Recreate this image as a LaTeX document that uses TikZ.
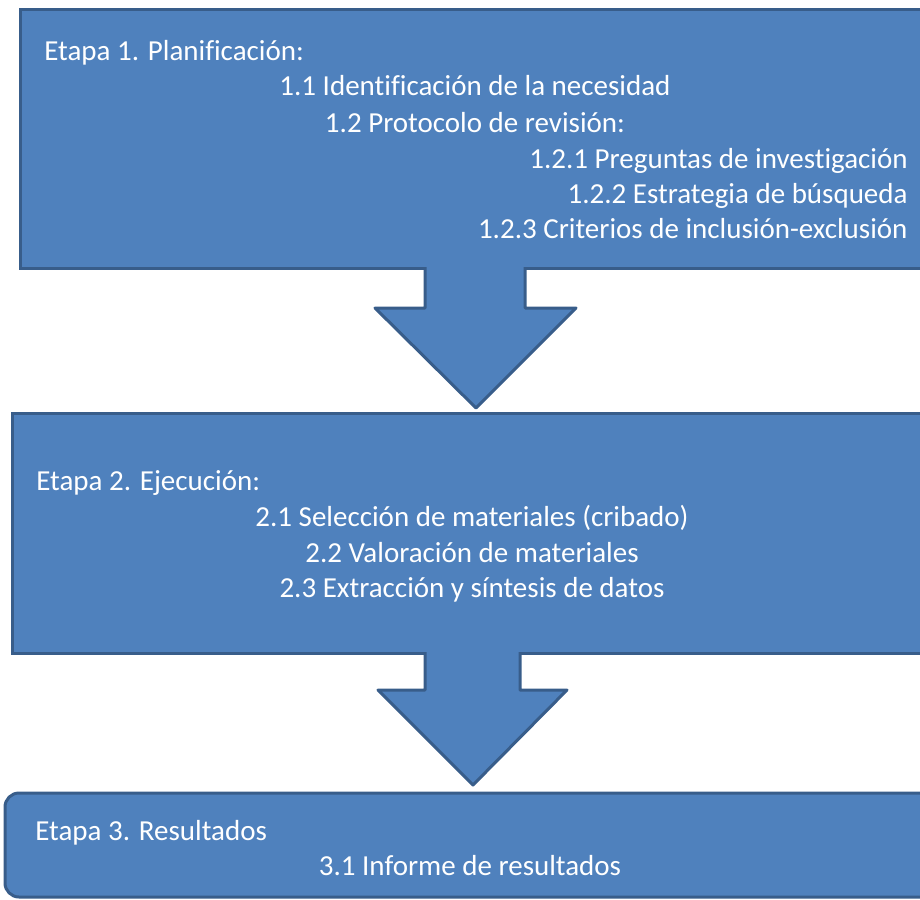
\documentclass[tikz,border=0pt]{standalone}
\usepackage{fontspec}
\setmainfont[Ligatures={NoCommon}]{Carlito}
\definecolor{azul}{HTML}{4F81BD}
\definecolor{borde}{HTML}{385D8A}

\begin{document}
\begin{tikzpicture}
    [x=0.5pt,y=-0.5pt,
     caja/.style={fill=azul,draw=borde,line width=1.5pt},
     flecha/.style={fill=azul,draw=borde,line width=1.5pt,line join=round},
     texto/.style={text=white,inner sep=0pt,font=\fontsize{14.5}{17}\selectfont}]
    \useasboundingbox (0,0) rectangle (920,899);
    \clip (0,0) rectangle (920,899);
    \draw [caja] (20,10) rectangle (940,268);
    \draw [caja] (12,413) rectangle (940,653);
    \draw [caja,rounded corners=7pt] (5,793) rectangle (960,897);
    \path [flecha] (425,267) -- (425,308) -- (375,308) -- (476,408)
      -- (576,308) -- (525,308) -- (525,267);
    \path [flecha] (425,652) -- (425,690) -- (378,690) -- (473,785)
      -- (567,690) -- (520,690) -- (520,652);
    \node (etapa1) at (44,61)     [texto,anchor=base west] {Etapa 1. Planificación:};
    \node (necesidad) at (475,96)  [texto,anchor=base] {1.1 Identificación de la necesidad};
    \node (protocolo) at (475,133) [texto,anchor=base] {1.2 Protocolo de revisión:};
    \node (preguntas) at (908,168)  [texto,anchor=base east] {1.2.1 Preguntas de investigación};
    \node (estrategia) at (908,203) [texto,anchor=base east] {1.2.2 Estrategia de búsqueda};
    \node (criterios) at (908,238)  [texto,anchor=base east] {1.2.3 Criterios de inclusión-exclusión};
    \node (etapa2) at (36,490)      [texto,anchor=base west] {Etapa 2. Ejecución:};
    \node (seleccion) at (472,526)  [texto,anchor=base] {2.1 Selección de materiales (cribado)};
    \node (valoracion) at (472,562) [texto,anchor=base] {2.2 Valoración de materiales};
    \node (extraccion) at (472,597) [texto,anchor=base] {2.3 Extracción y síntesis de datos};
    \node (etapa3) at (35,840)      [texto,anchor=base west] {Etapa 3. Resultados};
    \node (informe) at (470,875)    [texto,anchor=base] {3.1 Informe de resultados};
  \end{tikzpicture}
\end{document}
